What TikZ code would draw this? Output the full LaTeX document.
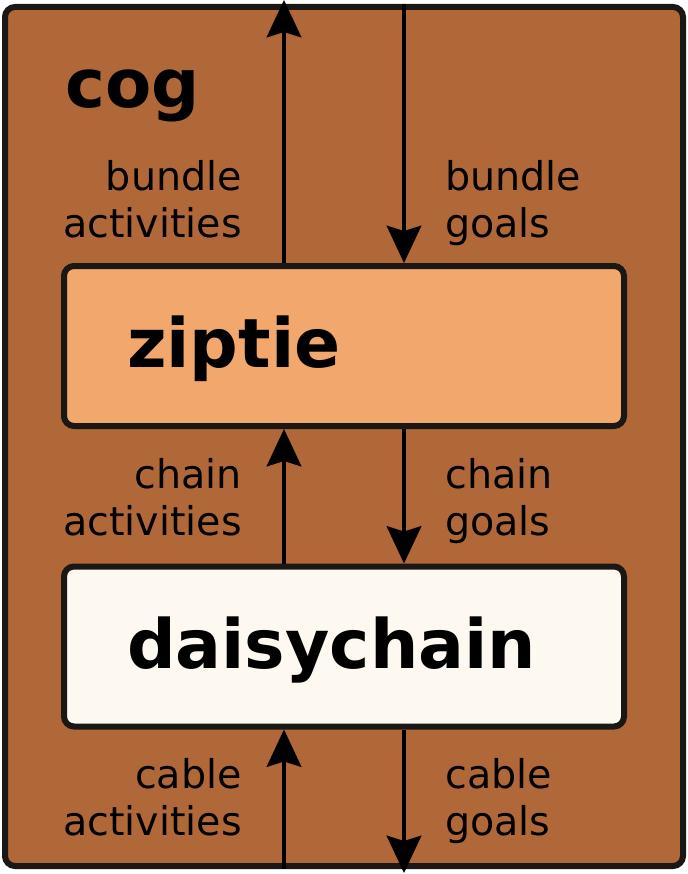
\documentclass[tikz,border=0pt]{standalone}
\usepackage{fontspec}
\setmainfont{DejaVu Sans}
\usetikzlibrary{arrows.meta,positioning}
\definecolor{cogbrown}{HTML}{B06838}
\definecolor{zipfill}{HTML}{F2A76D}
\definecolor{daisyfill}{HTML}{FDF8F0}
\definecolor{edge}{HTML}{1A1714}
\tikzstyle{layer}=[draw=edge,line width=4.5pt,rounded corners=7.5pt,minimum width=420pt,minimum height=120pt,text width=325.5pt,text depth=6pt,inner xsep=47.25pt,inner ysep=0pt,align=left,font=\bfseries\fontsize{51}{60}\selectfont]
\tikzstyle{title}=[inner sep=0pt,font=\bfseries\fontsize{50.5}{60}\selectfont]
\tikzstyle{note}=[inner sep=0pt,font=\fontsize{29.7}{35.25}\selectfont]
\tikzstyle{flow}=[line width=2.6pt,-{Stealth[length=28pt,width=26pt,inset=4pt]}]

\begin{document}
\begin{tikzpicture}[x=0.75pt,y=-0.75pt]
\useasboundingbox (0,0) rectangle (688,874);
% outer layer
\node [draw=edge,fill=cogbrown,line width=4.5pt,rounded corners=7.5pt,
	minimum width=508.5pt,minimum height=644.25pt,inner sep=0pt] (cog) at (344,436.5) {};
\node [title,anchor=base west] (cogname) at (65,108) {cog};
% inner layers
\node [layer,fill=zipfill] (zip) at (344,346) {ziptie};
\node [layer,fill=daisyfill] (daisy) at (344,646.5) {daisychain};
% arrow columns
\coordinate (up) at (284,0);
\coordinate (dn) at (404,0);
\draw [flow,shorten >=-3pt] (zip.north -| up) -- (cog.north -| up);
\draw [flow] (cog.north -| dn) -- (zip.north -| dn);
\draw [flow] (daisy.north -| up) -- (zip.south -| up);
\draw [flow] (zip.south -| dn) -- (daisy.north -| dn);
\draw [flow] (cog.south -| up) -- (daisy.south -| up);
\draw [flow,shorten >=-3pt] (daisy.south -| dn) -- (cog.south -| dn);
% labels (base = last line)
\node [note,align=right,anchor=base east] (bundleact) at (242,237) {bundle\\activities};
\node [note,align=left,anchor=base west] (bundlegoal) at (445,237) {bundle\\goals};
\node [note,align=right,anchor=base east] (chainact) at (242,535) {chain\\activities};
\node [note,align=left,anchor=base west] (chaingoal) at (445,535) {chain\\goals};
\node [note,align=right,anchor=base east] (cableact) at (242,835) {cable\\activities};
\node [note,align=left,anchor=base west] (cablegoal) at (445,835) {cable\\goals};
\end{tikzpicture}
\end{document}
